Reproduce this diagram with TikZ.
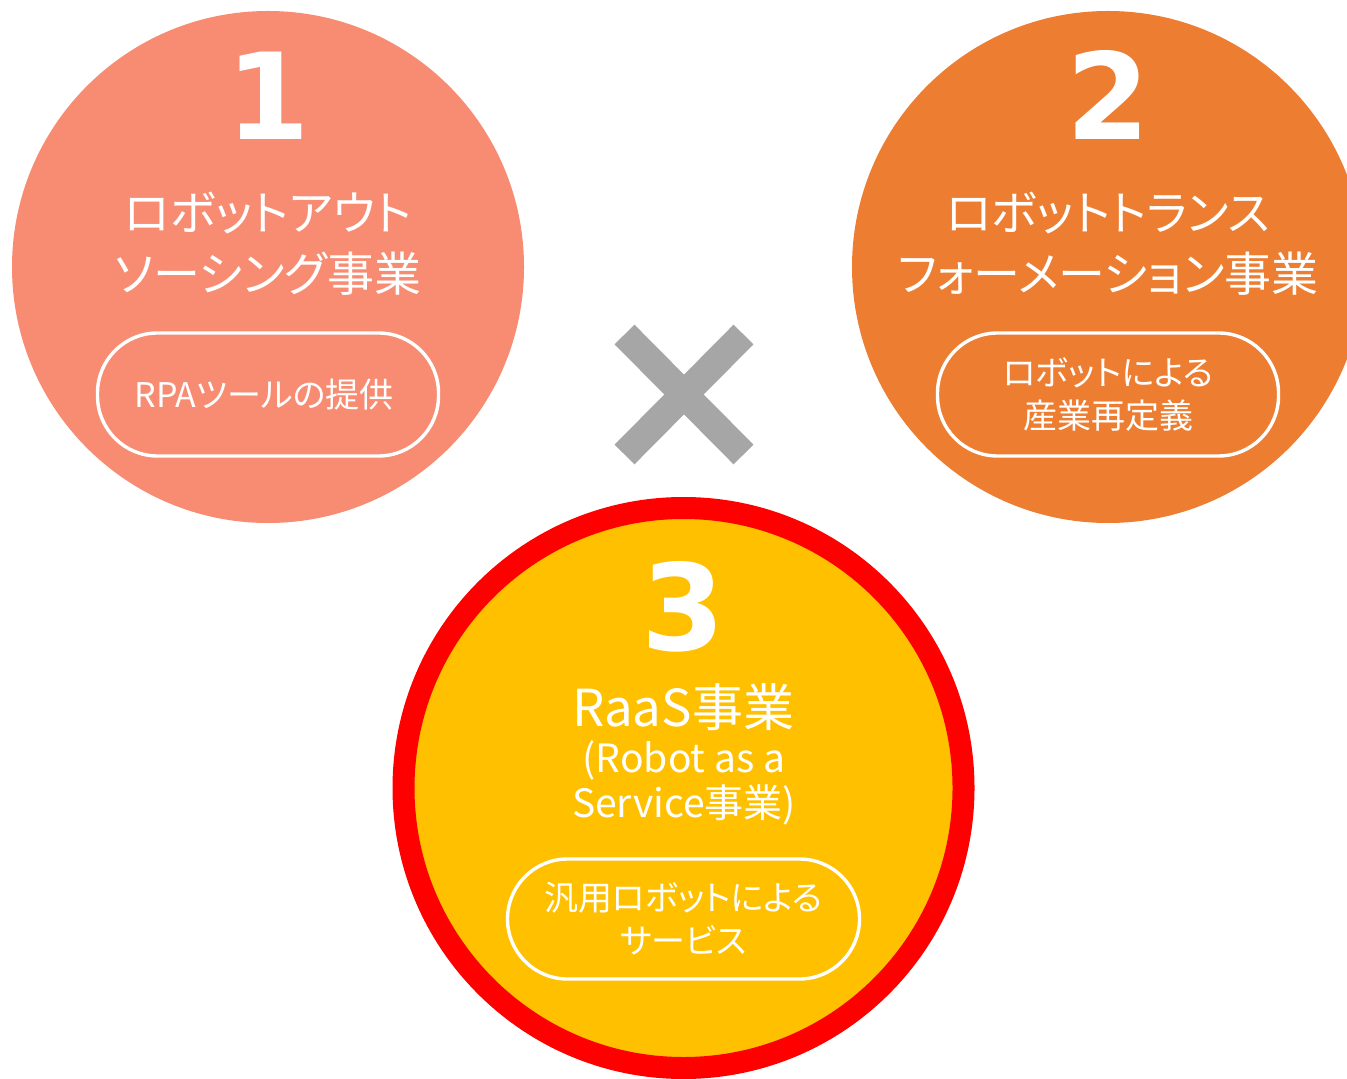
\documentclass[tikz,border=0pt]{standalone}
\usepackage{fontspec}
\setmainfont{Noto Sans CJK JP}[RawFeature=+palt]
\newfontfamily\numfont{DejaVu Sans}
\usepackage{tikz}
\usetikzlibrary{positioning}
\definecolor{salmon}{HTML}{F88C72}
\definecolor{orangeb}{HTML}{ED7D31}
\definecolor{gold}{HTML}{FFC000}
\definecolor{crossgray}{HTML}{A6A6A6}
\tikzset{
    bigcirc/.style={
           circle,
           minimum size=256pt,
           inner sep=0pt,
           },
    pill/.style={
           rectangle,
           rounded corners=30pt,
           draw=white, line width=1.7pt,
           minimum width=170.5pt,
           minimum height=61.5pt,
           inner sep=0pt,
           text=white,
           align=center,
           font=\fontsize{17pt}{21.5pt}\selectfont,
           },
    head/.style={
           text=white,
           align=center,
           inner sep=0pt,
           font=\fontsize{23.5pt}{30.5pt}\selectfont,
           },
    num/.style={
           text=white,
           inner sep=0pt,
           anchor=base,
           font=\numfont\bfseries\fontsize{60pt}{60pt}\selectfont,
           },
}

\begin{document}
\begin{tikzpicture}
[
x=0.5pt,y=-0.5pt
]
 \useasboundingbox (0,0) rectangle (1347,1079);
 \clip (0,0) rectangle (1347,1079);

 % First circle: outsourcing
 \node[bigcirc, fill=salmon] (ONE) at (268,267) {};
 \node[num] (NUMONE) at (268,140) {1};
 \node[head] (HEADONE) at (268,244) {%
ロボットアウト\\ソーシング事業
 };
 \node[pill,
 below of=ONE,
 node distance=63.75pt] (PILLONE)
 {%
RPAツールの提供
 };

 % Second circle: transformation
 \node[bigcirc, fill=orangeb,
 right of=ONE,
 node distance=420pt] (TWO) {};
 \node[num] (NUMTWO) at (1108,140) {2};
 \node[head] (HEADTWO) at (1108,244) {%
ロボットトランス\\フォーメーション事業
 };
 \node[pill,
 below of=TWO,
 node distance=63.75pt] (PILLTWO)
 {%
ロボットによる\\産業再定義
 };

 % Third circle: RaaS, red ring
 \node[bigcirc, fill=gold, draw=red, line width=11pt,
 minimum size=280pt] (THREE) at (683.5,788) {};
 \node[num] (NUMTHREE) at (683,650) {3};
 \node[head,
 font=\fontsize{25.5pt}{30.5pt}\selectfont] (HEADTHREE) at (683,707) {RaaS事業};
 \node[head,
 font=\fontsize{19.5pt}{22.5pt}\selectfont] (SUBTHREE) at (684,783) {%
(Robot as a\\Service事業)
 };
 \node[pill,
 minimum width=176pt, minimum height=60pt,
 below of=THREE,
 node distance=65.5pt] (PILLTHREE)
 {%
汎用ロボットによる\\サービス
 };

 % the cross between the circles
 \coordinate (XA) at (624.5,334.5);
 \coordinate (XB) at (743.5,454.5);
 \coordinate (XC) at (743.5,334.5);
 \coordinate (XD) at (624.5,454.5);
 \draw[crossgray, line width=14pt] (XA) -- (XB) (XC) -- (XD);
\end{tikzpicture}
\end{document}
